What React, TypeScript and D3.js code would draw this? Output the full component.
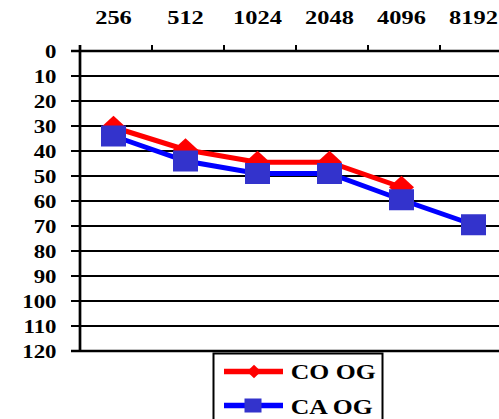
import { useRef, useEffect } from 'react'
import * as d3 from 'd3'

const WIDTH = 499
const HEIGHT = 419

const frequencies = ['256', '512', '1024', '2048', '4096', '8192']
const yTicks = [0, 10, 20, 30, 40, 50, 60, 70, 80, 90, 100, 110, 120]
const coOg = [30.5, 39.5, 44.5, 44.5, 54.5]
const caOg = [34, 44, 49, 49, 59.5, 69.5]
const seriesNames = ['CO OG', 'CA OG']

const FONT = '"Liberation Serif", "Times New Roman", serif'

function diamondPath(hw: number, hh: number) {
  return `M0,${-hh}L${hw},0L0,${hh}L${-hw},0Z`
}

export default function App() {
  const svgRef = useRef<SVGSVGElement>(null)

  useEffect(() => {
    if (!svgRef.current) return
    const svg = d3.select(svgRef.current)
    svg.selectAll('*').remove()

    const margin = { top: 51, left: 80 }
    const plotBottom = 351
    const plotRight = 512

    const x = d3.scaleBand<string>().domain(frequencies).range([margin.left, plotRight]).padding(0)
    const y = d3.scaleLinear().domain([0, 120]).range([margin.top, plotBottom])
    const cx = (c: string) => (x(c) ?? 0) + x.bandwidth() / 2 - 2.5

    // gridlines + y ticks
    svg
      .append('g')
      .selectAll('line')
      .data(yTicks)
      .enter()
      .append('line')
      .attr('x1', 71)
      .attr('x2', plotRight)
      .attr('y1', (d) => y(d))
      .attr('y2', (d) => y(d))
      .attr('stroke', '#000')
      .attr('stroke-width', (d) => (d === 0 || d === 120 ? 2.6 : 2))

    // top ticks at band boundaries
    svg
      .append('g')
      .selectAll('line')
      .data(frequencies)
      .enter()
      .append('line')
      .attr('x1', (d) => x(d) ?? 0)
      .attr('x2', (d) => x(d) ?? 0)
      .attr('y1', margin.top - 6)
      .attr('y2', margin.top)
      .attr('stroke', '#000')
      .attr('stroke-width', 2)

    // left axis
    svg
      .append('line')
      .attr('x1', margin.left)
      .attr('x2', margin.left)
      .attr('y1', margin.top - 6)
      .attr('y2', plotBottom + 1)
      .attr('stroke', '#000')
      .attr('stroke-width', 2.7)

    // y labels
    svg
      .append('g')
      .selectAll('text')
      .data(yTicks)
      .enter()
      .append('text')
      .attr('transform', (d) => `translate(56.5,${y(d) + 6.6}) scale(1.16,1)`)
      .attr('text-anchor', 'end')
      .attr('font-family', FONT)
      .attr('font-weight', 'bold')
      .attr('font-size', 19.7)
      .text((d) => d)

    // top labels
    svg
      .append('g')
      .selectAll('text')
      .data(frequencies)
      .enter()
      .append('text')
      .attr('transform', (d) => `translate(${cx(d)},24.4) scale(1.24,1)`)
      .attr('text-anchor', 'middle')
      .attr('font-family', FONT)
      .attr('font-weight', 'bold')
      .attr('font-size', 19.7)
      .text((d) => d)

    const line = d3
      .line<number>()
      .x((_, i) => cx(frequencies[i]))
      .y((d) => y(d))

    // CO OG
    svg
      .append('path')
      .datum(coOg)
      .attr('d', line)
      .attr('fill', 'none')
      .attr('stroke', '#ff0000')
      .attr('stroke-width', 5)
    svg
      .append('g')
      .selectAll('path')
      .data(coOg)
      .enter()
      .append('path')
      .attr('d', diamondPath(12.5, 11.5))
      .attr('transform', (d, i) => `translate(${cx(frequencies[i])},${y(d)})`)
      .attr('fill', '#ff0000')

    // CA OG
    svg
      .append('path')
      .datum(caOg)
      .attr('d', line)
      .attr('fill', 'none')
      .attr('stroke', '#0000ff')
      .attr('stroke-width', 5)
    svg
      .append('g')
      .selectAll('rect')
      .data(caOg)
      .enter()
      .append('rect')
      .attr('x', (_, i) => cx(frequencies[i]) - 12.5)
      .attr('y', (d) => y(d) - 10.5)
      .attr('width', 25)
      .attr('height', 21)
      .attr('fill', '#3333cc')

    // legend
    const lg = svg.append('g')
    lg.append('rect')
      .attr('x', 213.5)
      .attr('y', 353.5)
      .attr('width', 169)
      .attr('height', 90)
      .attr('fill', '#fff')
      .attr('stroke', '#000')
      .attr('stroke-width', 2)

    const rows = [
      { name: seriesNames[0], color: '#ff0000', marker: 'diamond', y: 371.5, ty: 379.3 },
      { name: seriesNames[1], color: '#0000ff', marker: 'square', y: 405.5, ty: 413.6 },
    ]
    rows.forEach((r) => {
      lg.append('line')
        .attr('x1', 224)
        .attr('x2', 283)
        .attr('y1', r.y)
        .attr('y2', r.y)
        .attr('stroke', r.color)
        .attr('stroke-width', 5.5)
      if (r.marker === 'diamond') {
        lg.append('path')
          .attr('d', diamondPath(7, 6.7))
          .attr('transform', `translate(254,${r.y})`)
          .attr('fill', '#ff0000')
      } else {
        lg.append('rect')
          .attr('x', 253 - 8.5)
          .attr('y', r.y - 7)
          .attr('width', 17)
          .attr('height', 14)
          .attr('fill', '#3333cc')
      }
      lg.append('text')
        .attr('transform', `translate(290.7,${r.ty}) scale(1.19,1)`)
        .attr('font-family', FONT)
        .attr('font-weight', 'bold')
        .attr('font-size', 21.6)
        .text(r.name)
    })
  }, [])

  return (
    <svg
      ref={svgRef}
      width={WIDTH}
      height={HEIGHT}
      style={{ position: 'absolute', left: 0, top: 0, background: '#fff' }}
    />
  )
}
